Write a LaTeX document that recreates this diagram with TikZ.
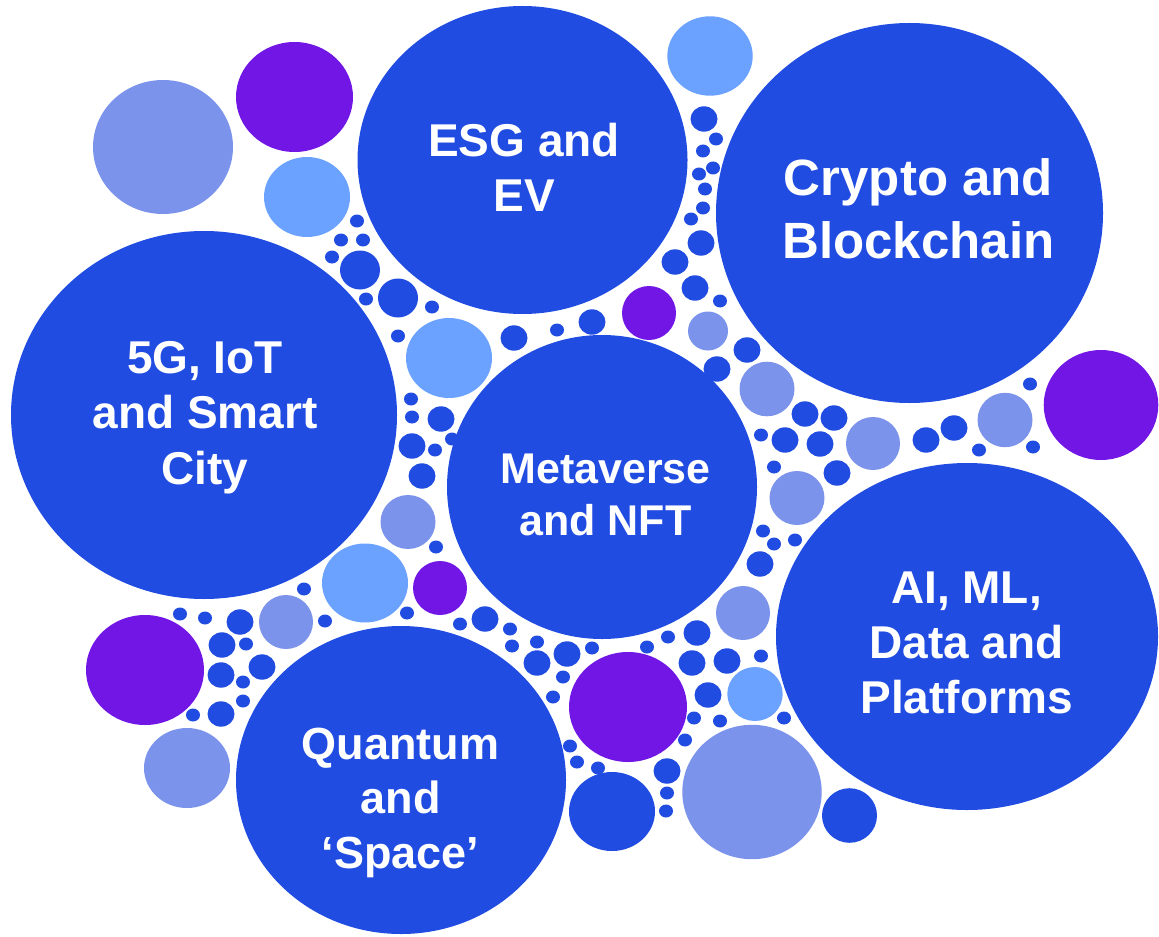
\documentclass[tikz,border=0pt]{standalone}
\usepackage{fontspec}
\setmainfont{Liberation Sans}
\definecolor{cDark}{RGB}{32,76,226}
\definecolor{cLight}{RGB}{107,162,255}
\definecolor{cLav}{RGB}{123,147,235}
\definecolor{cPur}{RGB}{114,22,230}
\newcommand\bub[4]{\fill[#1] (#2) ellipse [x radius=#3, y radius=#4];}
\newcommand\sdots[1]{\foreach \p in {#1} {\fill[cDark] (\p) ellipse [x radius=7, y radius=6.5];}}
\newcommand\mdots[1]{\foreach \p in {#1} {\fill[cDark] (\p) ellipse [x radius=13.5, y radius=12.7];}}
\newcommand\lbl[3]{\begin{tabular}[t]{@{}c@{}}\fontsize{#1}{#2}\selectfont\end{tabular}}
\begin{document}
\begin{tikzpicture}[x=0.5pt,y=-0.5pt,
  label/.style={text=white, inner sep=0pt, anchor=base, font=\bfseries}]
\useasboundingbox (0,0) rectangle (1159,936);
% big bubbles
\bub{cDark}{522.5,160}{165}{154}
\bub{cDark}{909.5,213}{193.5}{190}
\bub{cDark}{204,415}{193}{184}
\bub{cDark}{602,487}{155}{152}
\bub{cDark}{967,636.5}{191}{173.5}
\bub{cDark}{401,780}{165}{154}
% medium bubbles
\bub{cLav}{163,147}{70}{67}
\bub{cPur}{294.5,97}{58.5}{55}
\bub{cLight}{307,197}{43}{40}
\bub{cLight}{710,56}{42.7}{39.7}
\bub{cLight}{449,358}{43}{40}
\bub{cLav}{408,522}{27.5}{27}
\bub{cLight}{365,583}{43}{39.5}
\bub{cPur}{440,588}{27}{27}
\bub{cLav}{286,622}{27}{27}
\bub{cPur}{649,313}{27}{27}
\bub{cLav}{708,331}{20}{19.5}
\bub{cLav}{767,389}{27.5}{27.3}
\bub{cLav}{873,443.5}{27}{26.5}
\bub{cLav}{797,498}{27.5}{27}
\bub{cLav}{1005,420}{27.5}{27.2}
\bub{cPur}{1101,405}{57.3}{55}
\bub{cPur}{145,670}{59}{55}
\bub{cLav}{187,768}{43}{40}
\bub{cPur}{628,707}{59}{55}
\bub{cDark}{612,811.5}{43}{39.5}
\bub{cLav}{743,613}{27}{27}
\bub{cLight}{755,694}{27.7}{27}
\bub{cLav}{752,792}{69.7}{67.2}
\bub{cDark}{849.5,815.5}{27.5}{27.3}
\bub{cDark}{360,270}{20}{19.5}
\bub{cDark}{398,298}{20}{19.5}
% medium dots
\mdots{{704,119},{701,243},{675,262},{695,288},{514,338},{592,322},{441,419},{412,446},{422,476},{485,619},{747,350},{717,369},{805,414},{834,418},{785,440},{820,444},{837,473},{760,564},{926,440},{954,428},{537,663},{567,654},{697,633},{692,663},{727,661},{708,695},{667,771},{222,645},{240,622},{262,667},{221,675},{221,714}}
% small dots
\sdots{{357,221},{341,240},{363,240},{332,257},{366,299},{432,307},{716,139},{703,151},{713,168},{699,174},{705,189},{703,208},{691,219},{720,301},{398,336},{557,330},{411,399},{412,417},{452,439},{435,450},{436,547},{304,589},{407,613},{325,621},{460,624},{761,435},{774,467},{763,531},{774,544},{795,540},{979,450},{1030,384},{1033,447},{510,629},{512,646},{537,642},{563,677},{553,697},{570,746},{577,762},{668,637},{592,648},{647,647},{761,656},{694,718},{720,721},{784,718},{685,740},{598,768},{667,793},{666,811},{246,644},{243,682},{243,701},{193,715},{180,614},{205,618}}
% labels
\node[label] (esg) at (524,156) {\fontsize{23}{27.5}\selectfont\begin{tabular}[t]{@{}c@{}}ESG and\\EV\end{tabular}};
\node[label] (crypto) at (918.5,195) {\fontsize{25.5}{31.5}\selectfont\begin{tabular}[t]{@{}c@{}}Crypto and\\Blockchain\end{tabular}};
\node[label] (fiveg) at (205,373) {\fontsize{23}{27.75}\selectfont\begin{tabular}[t]{@{}c@{}}5G, IoT\\and Smart\\City\end{tabular}};
\node[label] (meta) at (605.5,483) {\fontsize{21.5}{26}\selectfont\begin{tabular}[t]{@{}c@{}}Metaverse\\and NFT\end{tabular}};
\node[label] (ai) at (966.5,603) {\fontsize{23}{27.5}\selectfont\begin{tabular}[t]{@{}c@{}}AI, ML,\\Data and\\Platforms\end{tabular}};
\node[label] (quantum) at (400.5,759) {\fontsize{22.5}{27.3}\selectfont\begin{tabular}[t]{@{}c@{}}Quantum\\and\\‘Space’\end{tabular}};
\end{tikzpicture}
\end{document}
